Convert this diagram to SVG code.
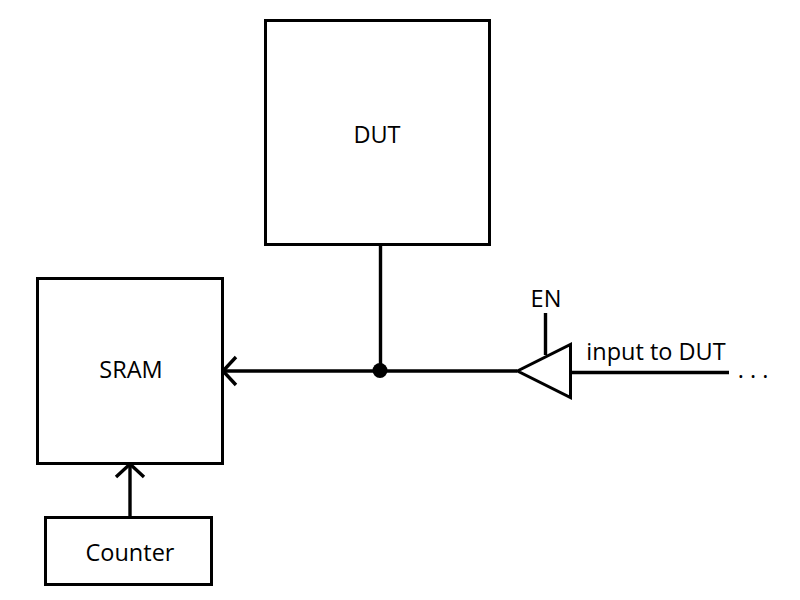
<svg xmlns="http://www.w3.org/2000/svg" width="800" height="600" viewBox="0 0 800 600">
<style>
.b{fill:#fff;stroke:#000;stroke-width:3}
.l{fill:none;stroke:#000;stroke-width:3.4}
text{font-family:"Open Sans","Noto Sans",sans-serif;font-size:23.500px;fill:#000;text-anchor:middle}
</style>
<rect width="800" height="600" fill="#fff"/>
<g id="connectors">
<path class="l" d="M380.500 245V371"/>
<path class="l" d="M223 371H517"/>
<path class="l" d="M236 357L223 371L236 385"/>
<path class="l" d="M130 517V464"/>
<path class="l" d="M116 477L130 464L144 477"/>
<path class="l" d="M545.500 355V313"/>
<path class="l" d="M571 372.500H729"/>
<circle cx="380" cy="370.500" r="7.500" fill="#000"/>
</g>
<g id="dut"><rect class="b" x="265.500" y="20.500" width="224" height="224"/><text x="377" y="143">DUT</text></g>
<g id="sram"><rect class="b" x="37.500" y="278.500" width="185" height="185"/><text x="131" y="378">SRAM</text></g>
<g id="counter"><rect class="b" x="45.500" y="517.500" width="166" height="67"/><text x="130" y="561">Counter</text></g>
<g id="buffer"><path class="b" d="M570.500 344.500V397.500L517.500 371Z"/><text x="546" y="307">EN</text></g>
<text x="656" y="360">input to DUT</text>
<text x="753" y="378">. . .</text>
</svg>
